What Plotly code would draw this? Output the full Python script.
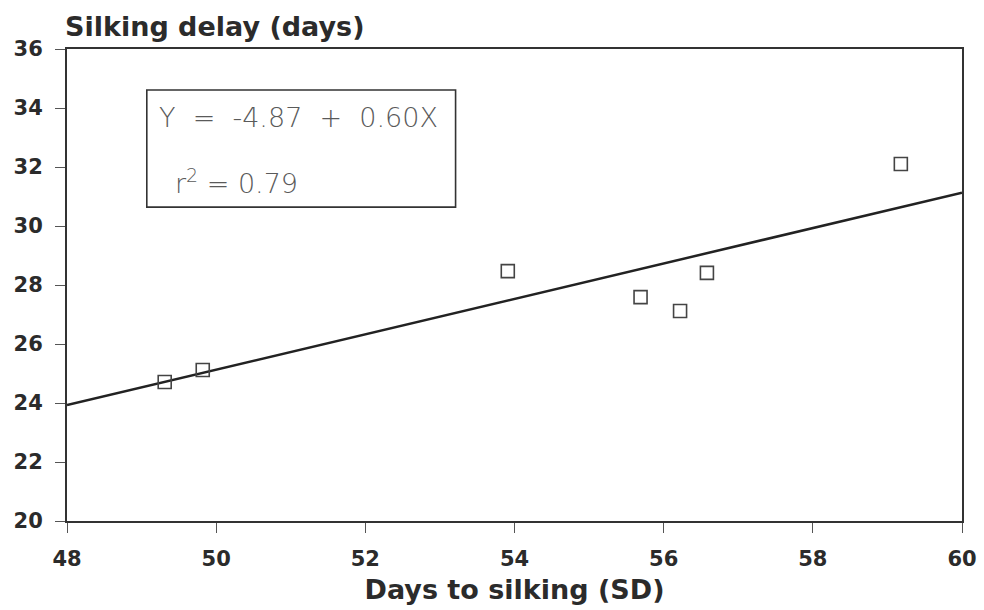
import numpy as np
import plotly.graph_objects as go

# Days to silking (x) and silking delay (y) for each entry
days_to_silking = [49.31, 49.82, 53.91, 55.69, 56.22, 56.58, 59.18]
silking_delay = [24.71, 25.12, 28.47, 27.59, 27.12, 28.41, 32.10]

# Fitted regression: Y = a + bX
intercept = -4.87
slope = 0.60
r_squared = 0.79

x_ticks = [48, 50, 52, 54, 56, 58, 60]
y_ticks = [20, 22, 24, 26, 28, 30, 32, 34, 36]

fit_x = np.array([48.0, 60.0])
fit_y = intercept + slope * fit_x

ink = "#2b2b2b"
bold_family = "DejaVu Sans, Verdana, sans-serif"
label_font = dict(family=bold_family, size=21, color=ink, weight="bold")

# Plot area in pixels
W, H = 984, 610
ML, MR, MT, MB = 67, 22, 49, 89
PW, PH = W - ML - MR, H - MT - MB

fig = go.Figure()
fig.add_trace(go.Scatter(
    x=fit_x, y=fit_y, mode="lines",
    line=dict(color="#222222", width=2.5), showlegend=False, hoverinfo="skip",
))
fig.add_trace(go.Scatter(
    x=days_to_silking, y=silking_delay, mode="markers",
    marker=dict(symbol="square-open", size=13, color="#444444", line=dict(width=1.6)),
    showlegend=False,
))

# Equation box
fig.add_shape(type="rect", xref="x", yref="y", x0=49.07, x1=53.21, y0=30.64, y1=34.61,
              line=dict(color="#333333", width=1.6), fillcolor="rgba(0,0,0,0)")
eq_font = dict(family="DejaVu Sans, sans-serif", size=27, color="#5a5a5a", weight=200)
fig.add_annotation(x=49.2, y=33.69, xref="x", yref="y", xanchor="left", yanchor="middle",
                   text=f"Y  =  {intercept:.2f}  +  {slope:.2f}X", showarrow=False, font=eq_font)
fig.add_annotation(x=49.42, y=31.5, xref="x", yref="y", xanchor="left", yanchor="middle",
                   text=f"r<sup>2</sup> = {r_squared:.2f}", showarrow=False, font=eq_font)

# Y-axis title above the plot
fig.add_annotation(x=(63 - ML) / PW, y=1 + (MT - 27) / PH, xref="paper", yref="paper",
                   text="Silking delay (days)", showarrow=False,
                   font=dict(family=bold_family, size=27, color=ink, weight="bold"),
                   xanchor="left", yanchor="middle")

axis_common = dict(
    showline=True, linecolor="#333333", linewidth=2, mirror=True,
    ticks="outside", ticklen=10, tickwidth=1.2, tickcolor="#555555",
    showgrid=False, zeroline=False, tickfont=label_font, automargin=False,
)

fig.update_xaxes(range=[48, 60], tickvals=x_ticks, ticklabelstandoff=8,
                 title=dict(text="Days to silking (SD)", standoff=10,
                            font=dict(family=bold_family, size=27, color=ink, weight="bold")),
                 **axis_common)
fig.update_yaxes(range=[20, 36], tickvals=y_ticks, ticklabelstandoff=8, **axis_common)

fig.update_layout(
    width=W, height=H,
    margin=dict(l=ML, r=MR, t=MT, b=MB, autoexpand=False),
    plot_bgcolor="white", paper_bgcolor="white",
)

fig.write_html("out.html")
